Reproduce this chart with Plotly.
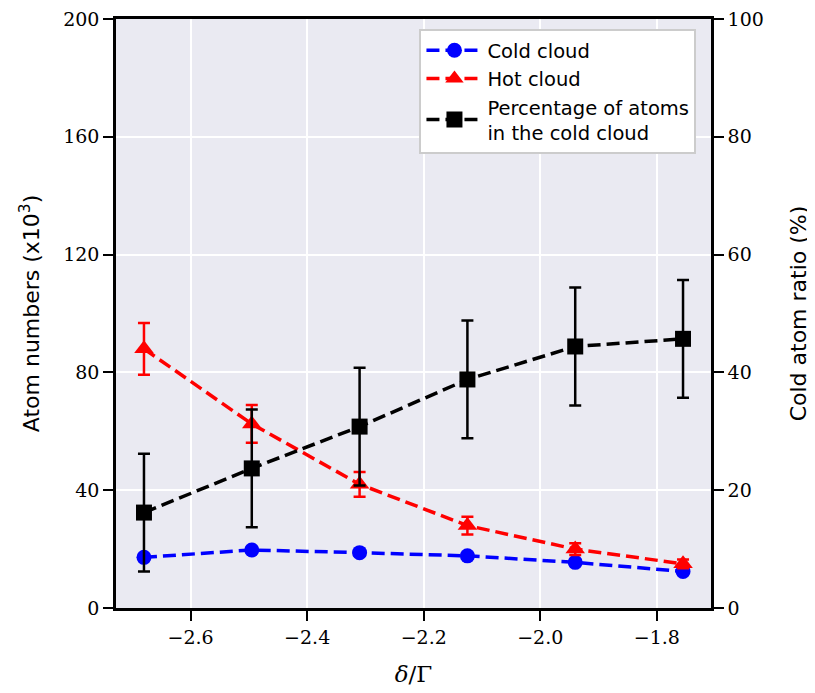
import plotly.graph_objects as go

detuning = [-2.68, -2.495, -2.31, -2.125, -1.94, -1.755]
cold = [17.2, 19.7, 18.8, 17.7, 15.5, 12.4]
cold_err = [1.0, 1.0, 1.0, 1.0, 1.0, 1.0]
hot = [88.0, 62.5, 42.0, 28.0, 20.0, 15.0]
hot_err = [8.8, 6.4, 4.2, 3.0, 2.0, 1.5]
ratio = [16.2, 23.7, 30.8, 38.8, 44.4, 45.7]
ratio_err = [10.0, 10.0, 10.0, 10.0, 10.0, 10.0]
left_ticks = [0, 40, 80, 120, 160, 200]
right_ticks = [0, 20, 40, 60, 80, 100]
x_ticks = [-2.6, -2.4, -2.2, -2.0, -1.8]
x_labels = ["\u22122.6", "\u22122.4", "\u22122.2", "\u22122.0", "\u22121.8"]

serif = "DejaVu Serif"
sans = "DejaVu Sans"
dash = "13px,6px"

fig = go.Figure()
fig.add_trace(go.Scatter(
    x=detuning, y=cold, name="Cold cloud", mode="lines+markers",
    line=dict(color="blue", width=3.5, dash=dash),
    marker=dict(symbol="circle", size=15, color="blue"),
    error_y=dict(type="data", array=cold_err, color="blue", thickness=2.5, width=6),
))
fig.add_trace(go.Scatter(
    x=detuning, y=hot, name="Hot cloud", mode="lines+markers",
    line=dict(color="red", width=3.5, dash=dash),
    marker=dict(symbol="triangle-up", size=17, color="red"),
    error_y=dict(type="data", array=hot_err, color="red", thickness=2.5, width=6),
))
fig.add_trace(go.Scatter(
    x=detuning, y=ratio, name="Percentage of atoms<br>in the cold cloud", mode="lines+markers",
    line=dict(color="black", width=3.5, dash=dash),
    marker=dict(symbol="square", size=16, color="black"),
    error_y=dict(type="data", array=ratio_err, color="black", thickness=2.5, width=6),
    yaxis="y2",
))

fig.update_layout(
    width=815, height=693,
    margin=dict(l=108, r=112, t=11, b=93, autoexpand=False),
    paper_bgcolor="white", plot_bgcolor="#EAEAF2",
    font=dict(family=serif, size=19, color="black"),
    xaxis=dict(
        range=[-2.728, -1.707], tickvals=x_ticks, ticktext=x_labels, automargin=False,
        ticklabeloverflow="allow",
        showline=True, linecolor="black", linewidth=2.5, mirror=True,
        ticks="outside", ticklen=10, tickwidth=2.2, tickcolor="black",
        gridcolor="white", gridwidth=1.8, zeroline=False,
        title=dict(text="<i>δ</i>/Γ", font=dict(family=serif, size=23), standoff=20),
    ),
    yaxis=dict(
        range=[0, 200], tickvals=left_ticks, automargin=False,
        ticklabeloverflow="allow",
        showline=True, linecolor="black", linewidth=2.5, mirror=True,
        ticks="outside", ticklen=10, tickwidth=2.2, tickcolor="black",
        gridcolor="white", gridwidth=1.8, zeroline=False,
        title=dict(text="Atom numbers (x10<sup>3</sup>)", font=dict(family=sans, size=22), standoff=18),
    ),
    yaxis2=dict(
        range=[0, 100], tickvals=right_ticks, overlaying="y", side="right", automargin=False,
        ticklabeloverflow="allow",
        showline=True, linecolor="black", linewidth=2.5,
        ticks="outside", ticklen=10, tickwidth=2.2, tickcolor="black",
        showgrid=False, zeroline=False,
        title=dict(text="Cold atom ratio (%)", font=dict(family=sans, size=22), standoff=28),
    ),
    legend=dict(
        x=0.51, y=0.983, xanchor="left", yanchor="top",
        bgcolor="white", bordercolor="#CCCCCC", borderwidth=2,
        font=dict(family=sans, size=19.5), tracegroupgap=2, itemwidth=56,
    ),
    showlegend=True,
)

fig.write_html("out.html")
